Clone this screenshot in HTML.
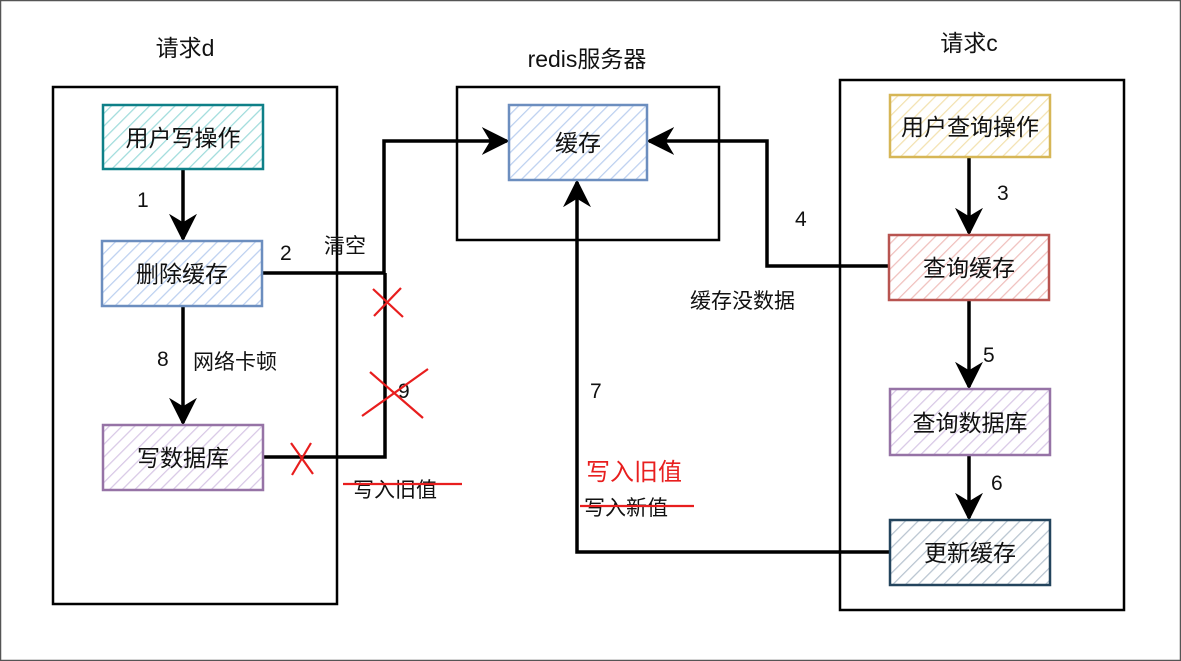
<!DOCTYPE html>
<html><head><meta charset="utf-8"><style>
html,body{margin:0;padding:0;background:#fff}
svg{display:block}
text{font-family:"Liberation Sans","Noto Sans CJK SC",sans-serif;fill:#111}
</style></head><body>
<svg width="1181" height="661" viewBox="0 0 1181 661" xmlns="http://www.w3.org/2000/svg">
<defs>
<pattern id="pt" width="9" height="9" patternUnits="userSpaceOnUse" patternTransform="rotate(45)"><rect width="9" height="9" fill="#fff"/><line x1="0" y1="0" x2="0" y2="9" stroke="#9fdcdc" stroke-width="2.5"/></pattern>
<pattern id="pb" width="9" height="9" patternUnits="userSpaceOnUse" patternTransform="rotate(45)"><rect width="9" height="9" fill="#fff"/><line x1="0" y1="0" x2="0" y2="9" stroke="#bcd0f0" stroke-width="2.5"/></pattern>
<pattern id="pp" width="9" height="9" patternUnits="userSpaceOnUse" patternTransform="rotate(45)"><rect width="9" height="9" fill="#fff"/><line x1="0" y1="0" x2="0" y2="9" stroke="#d8c8e6" stroke-width="2.5"/></pattern>
<pattern id="pr" width="9" height="9" patternUnits="userSpaceOnUse" patternTransform="rotate(45)"><rect width="9" height="9" fill="#fff"/><line x1="0" y1="0" x2="0" y2="9" stroke="#f0c0bd" stroke-width="2.5"/></pattern>
<pattern id="py" width="9" height="9" patternUnits="userSpaceOnUse" patternTransform="rotate(45)"><rect width="9" height="9" fill="#fff"/><line x1="0" y1="0" x2="0" y2="9" stroke="#f3e2b0" stroke-width="2.5"/></pattern>
<pattern id="pd" width="9" height="9" patternUnits="userSpaceOnUse" patternTransform="rotate(45)"><rect width="9" height="9" fill="#fff"/><line x1="0" y1="0" x2="0" y2="9" stroke="#b8c4d0" stroke-width="2.5"/></pattern>
<marker id="ar" viewBox="0 0 10 10" refX="9" refY="5" markerWidth="8" markerHeight="8" orient="auto" markerUnits="strokeWidth"><path d="M0,0 L10,5 L0,10 L3,5 z" fill="#000"/></marker>
</defs>
<rect x="0.5" y="0.5" width="1180" height="660" fill="#fff" stroke="#555" stroke-width="1.5"/>
<rect x="53" y="87" width="284" height="517" fill="none" stroke="#000" stroke-width="2.5"/>
<rect x="457" y="87" width="262" height="153" fill="none" stroke="#000" stroke-width="2.5"/>
<rect x="840" y="80" width="284" height="530" fill="none" stroke="#000" stroke-width="2.5"/>
<g fill="none" stroke="#000" stroke-width="3.5">
<path d="M262,273 H384 V141 H507" marker-end="url(#ar)"/>
<path d="M263,457 H385 V273"/>
<path d="M889,266 H767 V141 H649" marker-end="url(#ar)"/>
<path d="M890,552 H577 V182" marker-end="url(#ar)"/>
<path d="M183,169 V239" marker-end="url(#ar)"/>
<path d="M183,306 V423" marker-end="url(#ar)"/>
<path d="M969,157 V233" marker-end="url(#ar)"/>
<path d="M969,300 V387" marker-end="url(#ar)"/>
<path d="M969,455 V518" marker-end="url(#ar)"/>
</g>
<g stroke-width="2.5">
<rect x="103" y="105" width="160" height="64" fill="url(#pt)" stroke="#0e8088"/>
<rect x="102" y="241" width="160" height="65" fill="url(#pb)" stroke="#6c8ebf"/>
<rect x="103" y="425" width="160" height="65" fill="url(#pp)" stroke="#9673a6"/>
<rect x="509" y="105" width="138" height="75" fill="url(#pb)" stroke="#6c8ebf"/>
<rect x="890" y="95" width="160" height="62" fill="url(#py)" stroke="#d6b656"/>
<rect x="889" y="235" width="160" height="65" fill="url(#pr)" stroke="#b85450"/>
<rect x="890" y="389" width="160" height="66" fill="url(#pp)" stroke="#9673a6"/>
<rect x="890" y="520" width="160" height="65" fill="url(#pd)" stroke="#23445d"/>
</g>
<g font-size="23" text-anchor="middle">
<text x="183" y="146">用户写操作</text>
<text x="182" y="282">删除缓存</text>
<text x="183" y="466">写数据库</text>
<text x="578" y="151">缓存</text>
<text x="970" y="135">用户查询操作</text>
<text x="969" y="276">查询缓存</text>
<text x="970" y="431">查询数据库</text>
<text x="970" y="561">更新缓存</text>
<text x="185" y="56">请求d</text>
<text x="587" y="67">redis服务器</text>
<text x="969" y="51">请求c</text>
</g>
<g font-size="21">
<text x="137" y="207">1</text>
<text x="280" y="260">2</text>
<text x="324" y="253">清空</text>
<text x="157" y="366">8</text>
<text x="193" y="369">网络卡顿</text>
<text x="398" y="398">9</text>
<text x="590" y="398">7</text>
<text x="795" y="226">4</text>
<text x="690" y="308">缓存没数据</text>
<text x="997" y="200">3</text>
<text x="983" y="362">5</text>
<text x="991" y="490">6</text>
<text x="353" y="497">写入旧值</text>
<text x="584" y="515">写入新值</text>
<text x="586" y="480" style="fill:#e81e1e" font-size="24">写入旧值</text>
</g>
<g stroke="#e81e1e" stroke-width="2.2" fill="none">
<path d="M343,484 H462"/>
<path d="M580,506 H694"/>
<path d="M373,289 L403,317 M401,288 L374,316"/>
<path d="M370,372 L423,418 M428,369 L362,416"/>
<path d="M291,443 L313,474 M311,443 L292,475"/>
</g>
</svg>
</body></html>
